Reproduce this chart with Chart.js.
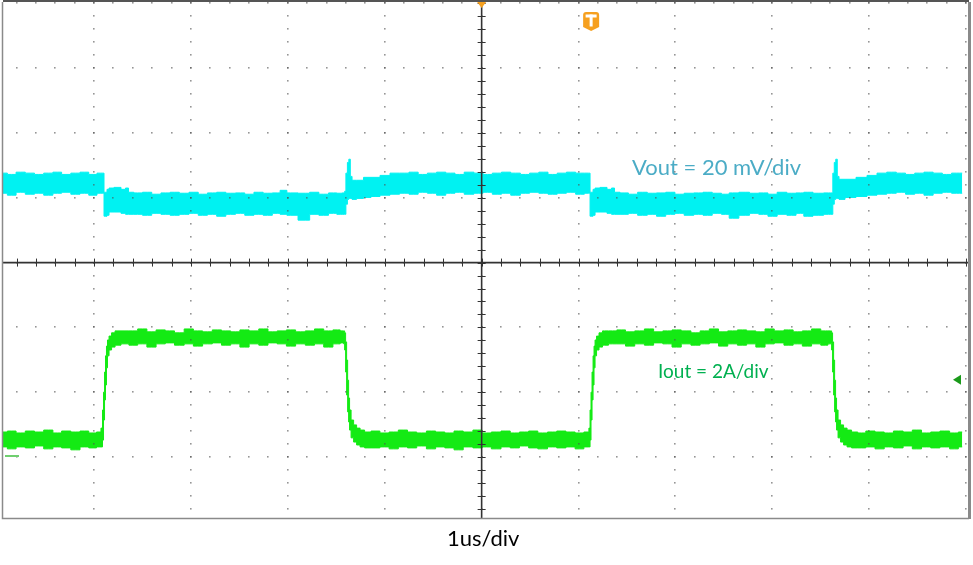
<!DOCTYPE html>
<html>
<head>
<meta charset="utf-8">
<script src="https://cdn.jsdelivr.net/npm/chart.js@4.4.1/dist/chart.umd.min.js"></script>
<style>
html,body{margin:0;padding:0;background:#fff;}
#wrap{width:973px;height:565px;}
</style>
</head>
<body>
<div id="wrap"><canvas id="c" width="973" height="565"></canvas></div>
<script>
// ---------- DATA (time in us, relative to screen centre) ----------
// Vout trace envelope (mV, relative to screen centre, 20 mV/div)
const voutT = [
  -4.94,-4.85,-4.76,-4.66,-4.57,-4.47,-4.38,-4.29,-4.19,-4.10,-4.01,-3.93,
  -3.903,-3.892,-3.877,-3.856,-3.835,-3.753,-3.691,-3.660,-3.629,
  -3.55,-3.45,-3.36,-3.26,-3.17,-3.07,-2.97,-2.88,-2.78,-2.69,-2.59,-2.49,-2.40,-2.30,-2.21,-2.11,-2.05,-1.97,-1.82,-1.73,-1.63,-1.53,-1.46,
  -1.419,-1.409,-1.393,-1.378,-1.363,-1.348,-1.327,-1.255,-1.183,-1.100,-0.997,-0.894,
  -0.80,-0.70,-0.61,-0.51,-0.42,-0.32,-0.23,-0.13,-0.03,0.06,0.16,0.25,0.35,0.45,0.54,0.64,0.73,0.83,0.92,1.02,1.10,
  1.114,1.124,1.140,1.160,1.181,1.263,1.325,1.356,1.387,
  1.47,1.56,1.66,1.76,1.85,1.95,2.04,2.14,2.24,2.33,2.43,2.52,2.59,2.72,2.81,2.91,3.00,3.10,3.20,3.29,3.36,3.48,3.58,
  3.617,3.632,3.647,3.663,3.678,3.699,3.802,3.926,4.029,4.132,
  4.23,4.33,4.42,4.52,4.61,4.71,4.80,4.90,4.96
];
const voutMax = [
  27.6,27.2,27.9,27.6,27.2,27.6,27.9,27.2,27.6,27.9,27.2,27.6,
  27.6,21.7,21.7,22.6,23.0,23.2,22.6,23.0,21.7,
  21.5,21.7,21.1,21.5,21.7,21.4,21.7,21.1,21.5,21.7,21.4,21.5,21.1,21.7,21.4,21.5,22.3,21.5,21.4,21.7,21.1,21.5,21.4,
  21.5,22.0,27.6,30.9,31.9,26.6,25.4,25.4,26.3,26.3,26.9,27.6,
  27.6,27.9,27.2,27.6,27.9,27.6,27.2,27.9,27.6,27.2,27.6,27.9,27.6,27.2,27.6,27.9,27.2,27.6,27.9,27.6,27.6,
  27.6,21.7,21.7,22.6,23.0,23.2,22.6,23.0,21.7,
  21.5,21.1,21.7,21.4,21.5,21.7,21.1,21.4,21.5,21.7,21.4,21.1,21.5,21.7,21.4,21.5,21.1,21.7,21.4,21.5,21.7,21.4,21.5,
  21.5,27.6,30.9,31.9,26.6,25.7,25.7,26.3,26.9,27.6,
  27.9,27.6,27.2,27.6,27.9,27.6,27.2,27.6,27.6
];
const voutMin = [
  21.4,20.8,21.7,21.1,21.4,20.8,21.4,21.7,21.1,21.4,20.8,21.4,
  21.4,14.3,14.3,14.6,15.6,15.6,15.2,14.9,14.9,
  14.9,14.6,15.2,14.9,14.6,14.9,15.2,14.6,14.9,14.3,14.9,15.2,14.6,14.9,14.6,15.2,14.9,14.6,13.1,14.9,14.6,15.2,14.9,
  14.9,14.9,18.0,19.5,19.8,19.8,19.5,19.8,20.1,20.4,20.8,21.1,
  21.4,21.1,21.7,21.4,20.8,21.4,21.7,21.1,21.4,21.7,21.1,21.4,20.8,21.4,21.7,21.4,21.1,21.4,21.7,21.1,21.4,
  21.4,14.3,14.3,14.6,15.6,15.6,15.2,14.9,14.9,
  14.9,15.2,14.6,14.9,14.3,14.9,15.2,14.6,14.9,14.6,15.2,14.9,13.7,14.6,15.2,14.9,14.3,14.9,14.6,15.2,14.3,14.6,14.9,
  14.9,18.0,19.5,19.8,19.8,19.5,20.1,20.4,20.8,21.1,
  21.4,21.7,21.1,21.4,20.8,21.4,21.7,21.4,21.4
];

// Iout trace envelope (A, 2 A/div)
const ioutT = [
  -4.94,-4.85,-4.76,-4.66,-4.57,-4.47,-4.38,-4.29,-4.19,-4.10,-4.01,-3.94,
  -3.918,-3.908,-3.897,-3.887,-3.877,-3.867,-3.856,-3.835,-3.804,-3.763,-3.681,
  -3.60,-3.50,-3.41,-3.31,-3.22,-3.12,-3.02,-2.93,-2.83,-2.73,-2.64,-2.54,-2.45,-2.35,-2.25,-2.16,-2.06,-1.97,-1.87,-1.77,-1.68,-1.58,-1.49,-1.43,
  -1.419,-1.409,-1.399,-1.388,-1.378,-1.368,-1.358,-1.337,-1.306,-1.275,-1.234,-1.182,
  -1.10,-1.00,-0.91,-0.81,-0.72,-0.62,-0.52,-0.43,-0.33,-0.24,-0.14,-0.04,0.05,0.15,0.25,0.34,0.44,0.53,0.63,0.73,0.82,0.92,1.01,1.10,
  1.114,1.124,1.134,1.145,1.155,1.165,1.176,1.196,1.227,1.268,1.351,
  1.44,1.53,1.63,1.73,1.82,1.92,2.01,2.11,2.21,2.30,2.40,2.49,2.59,2.69,2.78,2.88,2.97,3.07,3.17,3.26,3.36,3.45,3.55,3.597,
  3.607,3.617,3.627,3.638,3.648,3.658,3.668,3.689,3.720,3.751,3.792,3.844,
  3.92,4.01,4.11,4.20,4.30,4.40,4.49,4.59,4.68,4.78,4.88,4.96
];
const ioutMax = [
  0.74,0.77,0.71,0.77,0.74,0.80,0.71,0.77,0.74,0.77,0.71,0.74,
  0.86,1.42,1.97,2.59,3.09,3.39,3.58,3.70,3.80,3.86,3.86,
  3.86,3.92,3.83,3.89,3.86,3.80,3.92,3.86,3.83,3.89,3.86,3.83,3.89,3.86,3.92,3.83,3.86,3.89,3.83,3.86,3.92,3.86,3.89,3.86,
  3.86,3.80,3.52,2.96,2.34,1.79,1.42,1.11,0.96,0.86,0.80,0.74,
  0.77,0.71,0.74,0.80,0.74,0.71,0.77,0.74,0.71,0.77,0.74,0.80,0.71,0.74,0.77,0.71,0.74,0.77,0.71,0.74,0.77,0.74,0.71,0.74,
  0.86,1.42,1.97,2.59,3.09,3.39,3.58,3.70,3.80,3.86,3.86,
  3.89,3.83,3.86,3.92,3.83,3.86,3.89,3.86,3.80,3.86,3.92,3.83,3.86,3.89,3.86,3.83,3.92,3.86,3.89,3.83,3.86,3.92,3.86,3.86,
  3.86,3.80,3.52,2.96,2.34,1.79,1.42,1.11,0.96,0.86,0.80,0.74,
  0.71,0.77,0.74,0.71,0.77,0.74,0.80,0.71,0.74,0.77,0.71,0.74
];
const ioutMin = [
  0.28,0.22,0.28,0.25,0.31,0.22,0.28,0.25,0.19,0.28,0.25,0.28,
  0.28,0.49,1.11,1.73,2.19,2.72,3.09,3.27,3.36,3.42,3.46,
  3.42,3.46,3.36,3.46,3.49,3.42,3.46,3.39,3.46,3.49,3.42,3.46,3.36,3.46,3.42,3.49,3.46,3.39,3.46,3.42,3.46,3.36,3.46,3.49,
  3.46,3.27,2.59,1.88,1.36,1.05,0.80,0.56,0.43,0.34,0.28,0.25,
  0.25,0.28,0.22,0.28,0.25,0.31,0.22,0.28,0.25,0.19,0.28,0.25,0.28,0.22,0.28,0.25,0.31,0.25,0.22,0.28,0.25,0.28,0.22,0.28,
  0.28,0.49,1.11,1.73,2.19,2.72,3.09,3.27,3.36,3.42,3.46,
  3.46,3.39,3.46,3.42,3.49,3.46,3.36,3.46,3.42,3.46,3.49,3.39,3.46,3.42,3.46,3.36,3.46,3.49,3.42,3.46,3.39,3.46,3.42,3.46,
  3.46,3.27,2.59,1.88,1.36,1.05,0.80,0.56,0.43,0.34,0.28,0.25,
  0.25,0.28,0.22,0.28,0.25,0.31,0.22,0.28,0.25,0.28,0.22,0.28
];

// Graticule divisions
const timeDivs = [-4,-3,-2,-1,0,1,2,3,4,5];          // us (1 us/div)
const voutDivs = [-60,-40,-20,0,20,40,60,80];        // mV (20 mV/div)
const triggerTime = 1.13;     // us
const triggerLevel = 2.35;    // A
const ioutGround = 0;         // A

// Labels
const voutLabel = 'Vout = 20 mV/div';
const ioutLabel = 'Iout = 2A/div';
const timeLabel = '1us/div';

// ---------- CHART ----------
const CYAN = '#00f2f2', GREEN = '#14ea14', ORANGE = '#f6a01f';
function pts(t, v){ return t.map((x,i)=>({x:x, y:v[i]})); }

const graticule = {
  id:'graticule',
  beforeDraw(chart){
    const c = chart.ctx; c.save(); c.fillStyle='#fff'; c.fillRect(0,0,chart.width,chart.height); c.restore();
  },
  afterDatasetsDraw(chart){
    const c = chart.ctx, xs = chart.scales.x, yv = chart.scales.yV, yi = chart.scales.yI, a = chart.chartArea;
    c.save();
    // labels
    c.textBaseline = 'alphabetic';
    c.font = '22px Lato';
    c.fillStyle = '#4bacc6';
    c.fillText(voutLabel, 632, 174.5);
    c.fillStyle = '#00b050';
    c.font = '19px Lato';
    c.fillText(ioutLabel, 658, 377.5);
    c.fillStyle = '#000';
    c.font = '22px Lato';
    c.fillText(timeLabel, 447, 546);

    c.save();
    c.beginPath(); c.rect(a.left, a.top, a.right - a.left, a.bottom - a.top); c.clip();
    // dotted graticule
    c.fillStyle = 'rgba(80,80,80,0.6)';
    const dot = (x,y)=>{ c.fillRect(Math.round(x)-1, Math.round(y)-1, 1.6, 1.6); };
    const yStep = 4; // mV, 1/5 div
    const xStep = 0.2; // us, 1/5 div
    timeDivs.forEach(t=>{
      const px = xs.getPixelForValue(t);
      for (let v = -80; v <= 84; v += yStep){
        dot(px, yv.getPixelForValue(v));
      }
    });
    voutDivs.forEach(v=>{
      const py = yv.getPixelForValue(v);
      for (let t = -5; t <= 5.05; t += xStep){
        dot(xs.getPixelForValue(t), py);
      }
    });
    // centre crosshair
    const cx = xs.getPixelForValue(0), cy = yv.getPixelForValue(0);
    c.strokeStyle = '#333'; c.lineWidth = 1.6;
    c.beginPath(); c.moveTo(cx, a.top); c.lineTo(cx, a.bottom); c.moveTo(a.left, cy); c.lineTo(a.right, cy); c.stroke();
    c.lineWidth = 1;
    c.beginPath();
    for (let t = -5; t <= 5.05; t += xStep){
      const px = Math.round(xs.getPixelForValue(t)) + 0.5;
      c.moveTo(px, cy-4); c.lineTo(px, cy+4);
    }
    for (let v = -80; v <= 84; v += yStep){
      const py = Math.round(yv.getPixelForValue(v)) + 0.5;
      c.moveTo(cx-4, py); c.lineTo(cx+4, py);
    }
    c.stroke();
    c.restore();

    // frame
    c.strokeStyle = '#8a8a8a'; c.lineWidth = 1.5;
    c.beginPath();
    c.moveTo(a.left-0.5, a.top); c.lineTo(a.left-0.5, a.bottom+0.5); c.lineTo(a.right, a.bottom+0.5);
    c.stroke();
    c.lineWidth = 3;
    c.beginPath(); c.moveTo(a.right+0.5, a.top); c.lineTo(a.right+0.5, a.bottom+1); c.stroke();
    c.strokeStyle = '#555'; c.lineWidth = 2;
    c.beginPath(); c.moveTo(a.left, 1); c.lineTo(a.right, 1); c.stroke();

    // top time-reference marker (orange triangle at t=0)
    c.fillStyle = ORANGE;
    c.beginPath(); c.moveTo(cx-4.5, 2); c.lineTo(cx+4.5, 2); c.lineTo(cx, 8); c.closePath(); c.fill();

    // trigger 'T' shield marker
    const tx = xs.getPixelForValue(triggerTime);
    c.beginPath();
    c.moveTo(tx-8, 15); c.quadraticCurveTo(tx-8, 12, tx-5, 12);
    c.lineTo(tx+5, 12); c.quadraticCurveTo(tx+8, 12, tx+8, 15);
    c.lineTo(tx+8, 27); c.lineTo(tx, 31); c.lineTo(tx-8, 27); c.closePath(); c.fill();
    c.fillStyle = '#fff';
    c.fillRect(tx-5.5, 14.5, 11, 3);
    c.fillRect(tx-1.5, 14.5, 3, 12);

    // trigger level arrow on right (Iout)
    const ty = yi.getPixelForValue(triggerLevel);
    c.fillStyle = '#1a9a1a';
    c.beginPath(); c.moveTo(953, ty); c.lineTo(961, ty-5); c.lineTo(961, ty+5); c.closePath(); c.fill();

    // Iout ground marker stub at left
    const gy = yi.getPixelForValue(ioutGround);
    c.strokeStyle = '#6fcf6f'; c.lineWidth = 2;
    c.beginPath(); c.moveTo(5, gy); c.lineTo(19, gy); c.stroke();
    c.restore();
  }
};

const common = {pointRadius:0, pointHoverRadius:0, borderWidth:1, tension:0, stepped:'middle'};

new Chart(document.getElementById('c'), {
  type:'line',
  data:{
    datasets:[
      Object.assign({label:'Vout max', data:pts(voutT, voutMax), yAxisID:'yV', borderColor:CYAN, backgroundColor:CYAN, fill:false}, common),
      Object.assign({label:'Vout min', data:pts(voutT, voutMin), yAxisID:'yV', borderColor:CYAN, backgroundColor:CYAN, fill:'-1'}, common),
      Object.assign({label:'Iout max', data:pts(ioutT, ioutMax), yAxisID:'yI', borderColor:GREEN, backgroundColor:GREEN, fill:false}, common),
      Object.assign({label:'Iout min', data:pts(ioutT, ioutMin), yAxisID:'yI', borderColor:GREEN, backgroundColor:GREEN, fill:'-1'}, common)
    ]
  },
  options:{
    responsive:false,
    animation:false,
    devicePixelRatio:1,
    layout:{padding:{left:3, right:4, top:2, bottom:47}},
    plugins:{legend:{display:false}, tooltip:{enabled:false}},
    events:[],
    scales:{
      x:{type:'linear', min:-4.94, max:5.03, display:false},
      yV:{type:'linear', min:-78.8, max:80.4, display:false},
      yI:{type:'linear', min:-1.913, max:14.007, display:false}
    }
  },
  plugins:[graticule]
});
</script>
</body>
</html>
